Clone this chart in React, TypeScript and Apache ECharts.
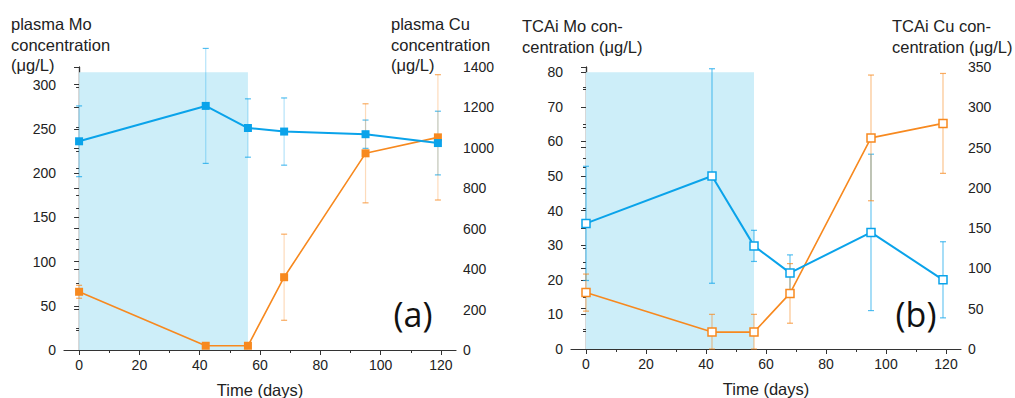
import React, { useEffect, useRef } from "react";
import * as echarts from "echarts";

// ---- data ----
const days = [0, 42, 56, 68, 95, 119];
const xTickValues = [0, 20, 40, 60, 80, 100, 120];
const xMinorValues = [10, 30, 50, 70, 90, 110];

// (a) plasma
const plasmaMo = [236, 276, 251, 247, 244, 234];
const plasmaMoErr = [40, 65, 33, 38, 16, 36];
const plasmaCu = [288, 21, 21, 360, 973, 1052];
const plasmaCuErr = [32, 12, 8, 213, 245, 310];

// (b) TCAi
const tcaiMo = [36.3, 50, 29.8, 22, 33.7, 20];
const tcaiMoErr = [16.5, 31, 4.5, 5.2, 22.6, 11];
const tcaiCu = [70, 21, 21, 69, 262, 280];
const tcaiCuErr = [23, 22, 22, 37, 78, 62];

// treatment period shading: [start day, end day, top on Mo axis]
const shadeA = [0, 56, 314];
const shadeB = [0, 56, 80];

const BLUE = "#0aa3ea";
const ORANGE = "#f7891f";
const SHADE = "#cdeef9";
const AXIS = "#333";
const TXT = "#222";
const FONT = "'Liberation Sans', Arial, sans-serif";

const pts = (ys: number[]) => days.map((d, i) => [d, ys[i]]);
const errs = (ys: number[], es: number[]) =>
  days.map((d, i) => [d, ys[i] - es[i], ys[i] + es[i]]);

function errorSeries(data: number[][], xi: number, yi: number, color: string, stemOpacity: number) {
  return {
    type: "custom",
    xAxisIndex: xi,
    yAxisIndex: yi,
    z: 2,
    silent: true,
    clip: false,
    encode: { x: 0, y: [1, 2] },
    data,
    renderItem: (params: any, api: any) => {
      const x = api.value(0);
      const lo = Math.max(0, api.value(1));
      const hi = api.value(2);
      const p1 = api.coord([x, hi]);
      const p2 = api.coord([x, lo]);
      const hw = 3;
      return {
        type: "group",
        children: [
          { type: "line", shape: { x1: p1[0], y1: p1[1], x2: p2[0], y2: p2[1] }, style: { stroke: color, lineWidth: 1.2, opacity: stemOpacity } },
          { type: "line", shape: { x1: p1[0] - hw, y1: p1[1], x2: p1[0] + hw, y2: p1[1] }, style: { stroke: color, lineWidth: 1.2, opacity: 0.7 } },
          { type: "line", shape: { x1: p2[0] - hw, y1: p2[1], x2: p2[0] + hw, y2: p2[1] }, style: { stroke: color, lineWidth: 1.2, opacity: 0.7 } },
        ],
      };
    },
  };
}

function shadeSeries(s: number[], xi: number, yi: number) {
  return {
    type: "custom",
    xAxisIndex: xi,
    yAxisIndex: yi,
    z: 1,
    silent: true,
    encode: { x: [0, 1], y: 2 },
    data: [s],
    renderItem: (params: any, api: any) => {
      const p0 = api.coord([api.value(0), api.value(2)]);
      const p1 = api.coord([api.value(1), 0]);
      return {
        type: "rect",
        shape: { x: p0[0], y: p0[1], width: p1[0] - p0[0], height: p1[1] - p0[1] },
        style: { fill: SHADE },
      };
    },
  };
}

function lineSeries(data: number[][], xi: number, yi: number, color: string, width: number, hollow: boolean) {
  return {
    type: "line",
    xAxisIndex: xi,
    yAxisIndex: yi,
    z: 3,
    data,
    symbol: "rect",
    symbolSize: 8,
    color,
    lineStyle: { color, width },
    itemStyle: hollow ? { color: "#fff", borderColor: color, borderWidth: 1.5 } : { color },
  };
}

const mainX = (gridIndex: number) => ({
  type: "value",
  gridIndex,
  min: -5,
  max: 125,
  position: "bottom",
  name: "Time (days)",
  nameLocation: "middle",
  nameGap: 31,
  nameTextStyle: { fontSize: 16.5, color: TXT, fontFamily: FONT },
  axisLine: { show: true, onZero: false, lineStyle: { color: AXIS, width: 1.2 } },
  axisTick: { show: true, length: 5, customValues: xTickValues, lineStyle: { color: AXIS } },
  axisLabel: { customValues: xTickValues, fontSize: 14, color: TXT, fontFamily: FONT, margin: 8, formatter: (v: number) => String(v) },
  splitLine: { show: false },
});

const minorX = (gridIndex: number) => ({
  type: "value",
  gridIndex,
  min: -5,
  max: 125,
  position: "bottom",
  axisLine: { show: false, onZero: false },
  axisTick: { show: true, length: 3, customValues: xMinorValues, lineStyle: { color: AXIS } },
  axisLabel: { show: false },
  splitLine: { show: false },
});

const yAx = (gridIndex: number, right: boolean, max: number, interval: number) => ({
  type: "value",
  gridIndex,
  position: right ? "right" : "left",
  min: 0,
  max,
  interval,
  axisLine: { show: true, lineStyle: { color: AXIS, width: 1.2 } },
  axisTick: { show: true, inside: right, length: 5, lineStyle: { color: AXIS } },
  minorTick: { show: true, splitNumber: 2, length: 3, lineStyle: { color: AXIS } },
  axisLabel: {
    fontSize: 14, color: TXT, fontFamily: FONT, margin: right ? 7 : 8,
    showMaxLabel: max % interval === 0,
    formatter: (v: number) => String(v),
  },
  splitLine: { show: false },
  minorSplitLine: { show: false },
});

const titleText = (text: string, x: number, y: number) => ({
  type: "text",
  x,
  y,
  silent: true,
  style: { text, fill: TXT, font: `16.5px ${FONT}`, textAlign: "left", textVerticalAlign: "top", lineHeight: 20.5 },
});

export default function App() {
  const ref = useRef<HTMLDivElement>(null);
  useEffect(() => {
    if (!ref.current) return;
    const chart = echarts.init(ref.current, undefined, { renderer: "svg" });
    chart.setOption({
      animation: false,
      backgroundColor: "#fff",
      grid: [
        { left: 64, top: 67, width: 392, height: 283, outerBoundsMode: "none", containLabel: false },
        { left: 571, top: 67, width: 390, height: 282, outerBoundsMode: "none", containLabel: false },
      ],
      xAxis: [mainX(0), minorX(0), mainX(1), minorX(1)],
      yAxis: [yAx(0, false, 320, 50), yAx(0, true, 1400, 200), yAx(1, false, 81.5, 10), yAx(1, true, 350, 50)],
      series: [
        shadeSeries(shadeA, 0, 0),
        errorSeries(errs(plasmaMo, plasmaMoErr), 0, 0, BLUE, 0.3),
        errorSeries(errs(plasmaCu, plasmaCuErr), 0, 1, ORANGE, 0.3),
        lineSeries(pts(plasmaCu), 0, 1, ORANGE, 1.6, false),
        lineSeries(pts(plasmaMo), 0, 0, BLUE, 2, false),
        shadeSeries(shadeB, 2, 2),
        errorSeries(errs(tcaiMo, tcaiMoErr), 2, 2, BLUE, 0.6),
        errorSeries(errs(tcaiCu, tcaiCuErr), 2, 3, ORANGE, 0.5),
        lineSeries(pts(tcaiCu), 2, 3, ORANGE, 1.6, true),
        lineSeries(pts(tcaiMo), 2, 2, BLUE, 2, true),
      ],
      graphic: [
        titleText("plasma Mo\nconcentration\n(μg/L)", 11, 14),
        titleText("plasma Cu\nconcentration\n(μg/L)", 391, 14),
        titleText("TCAi Mo con-\ncentration (μg/L)", 522, 16),
        titleText("TCAi Cu con-\ncentration (μg/L)", 892, 16),
        {
          type: "text", x: 413, y: 314, silent: true,
          style: { text: "(a)", fill: "#111", font: "34px 'Open Sans', sans-serif", textAlign: "center", textVerticalAlign: "middle" },
        },
        {
          type: "text", x: 916, y: 314, silent: true,
          style: { text: "(b)", fill: "#111", font: "34px 'Open Sans', sans-serif", textAlign: "center", textVerticalAlign: "middle" },
        },
      ],
    });
    return () => chart.dispose();
  }, []);
  return <div ref={ref} style={{ position: "fixed", left: 0, top: 0, width: 1015, height: 398 }} />;
}
